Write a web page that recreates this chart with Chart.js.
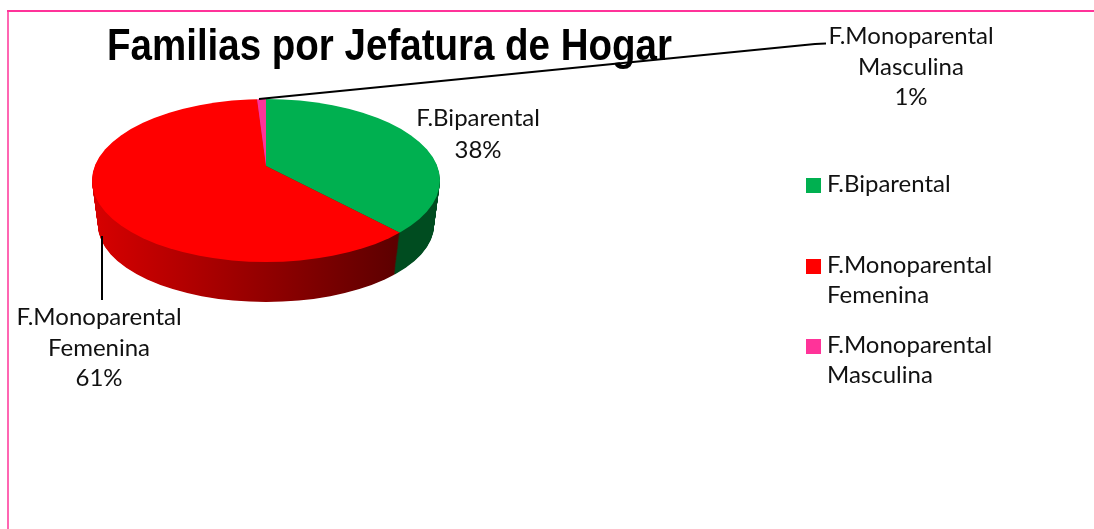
<!DOCTYPE html>
<html>
<head>
<meta charset="utf-8">
<title>Familias por Jefatura de Hogar</title>
<script src="https://cdn.jsdelivr.net/npm/chart.js@4"></script>
<style>
    html, body { margin: 0; padding: 0; background: #ffffff; overflow: hidden; }
    #wrap { position: relative; width: 1094px; height: 529px; }
</style>
</head>
<body>
<div id="wrap"><canvas id="chart" width="1094" height="529"></canvas></div>
<script>
const chartTitle = "Familias por Jefatura de Hogar";
const categories = ["F.Biparental", "F.Monoparental Femenina", "F.Monoparental Masculina"];
const values = [38, 61, 1];
const sliceColors = ["#00B050", "#FF0000", "#FF3399"];
const sideColors = [["#004c20", "#004c20"], ["#d80000", "#5c0000"], ["#b02070", "#b02070"]];

const labelFont = '24px Lato';
const titleFont = 'bold 44px "Liberation Sans"';
const frameColor = "#FF3399";

// top face of the pie on screen, the apex sits above the ellipse centre (perspective)
const pie = { x: 266, y: 180.5, rx: 174, ry: 81.5, apexY: 166, depth: 44.5, shrinkX: 6, shrinkY: 4.5 };
const tilt = pie.ry / pie.rx;

function words(i) {
    return categories[i].split(" ");
}

/**
 * Draws every arc of the dataset clipped to one ellipse of the pie
 */
function draw_layer(ctx, arcs, step, styles) {
    const rx = pie.rx - pie.shrinkX * step;
    const ry = pie.ry - pie.shrinkY * step;
    const offset = pie.depth * step;

    ctx.save();
    ctx.beginPath();
    ctx.ellipse(pie.x, pie.y + offset, rx, ry, 0, 0, Math.PI * 2);
    ctx.clip();
    ctx.translate(pie.x, pie.apexY + offset);
    ctx.scale(1, tilt);
    ctx.translate(-arcs[0].x, -arcs[0].y);
    arcs.forEach((arc, i) => {
        const saved = arc.options;
        arc.options = Object.assign({}, saved, { backgroundColor: styles[i], borderWidth: 0 });
        arc.draw(ctx);
        arc.options = saved;
    });
    ctx.restore();
}

function draw_centered(ctx, lines, x, ys) {
    ctx.textAlign = "center";
    lines.forEach((line, i) => ctx.fillText(line, x, ys[i]));
}

const pie3d = {
    id: "pie3d",
    beforeDatasetsDraw(chart) {
        const ctx = chart.ctx;
        const arcs = chart.getDatasetMeta(0).data;

        // frame
        ctx.lineWidth = 2;
        ctx.strokeStyle = "#FF66B2";
        ctx.beginPath();
        ctx.moveTo(8, 529);
        ctx.lineTo(8, 10);
        ctx.stroke();
        ctx.strokeStyle = frameColor;
        ctx.beginPath();
        ctx.moveTo(7, 11);
        ctx.lineTo(1094, 11);
        ctx.stroke();

        // side wall
        const toLocal = arcs[0].x - pie.x;
        const sideStyles = sideColors.map(pair => {
            const g = ctx.createLinearGradient(92 + toLocal, 0, 440 + toLocal, 0);
            g.addColorStop(0, pair[0]);
            g.addColorStop(0.88, pair[1]);
            g.addColorStop(1, pair[1]);
            return g;
        });
        for (let n = 60; n > 0; n--) {
            draw_layer(ctx, arcs, n / 60, sideStyles);
        }
        draw_layer(ctx, arcs, 0, sliceColors);
        return false;
    },
    afterDraw(chart) {
        const ctx = chart.ctx;

        // leader lines
        ctx.strokeStyle = "#000000";
        ctx.lineWidth = 2;
        ctx.beginPath();
        ctx.moveTo(259, 99);
        ctx.lineTo(815, 44);
        ctx.lineTo(826, 43.5);
        ctx.moveTo(102, 236);
        ctx.lineTo(102, 300);
        ctx.stroke();

        ctx.fillStyle = "#000000";
        ctx.font = titleFont;
        ctx.textAlign = "left";
        ctx.textBaseline = "alphabetic";
        ctx.fillText(chartTitle, 107, 60, 565);

        // data labels
        ctx.textBaseline = "middle";
        ctx.font = labelFont;
        ctx.fillStyle = "#111111";
        draw_centered(ctx, [...words(0), values[0] + "%"], 478, [118, 150]);
        draw_centered(ctx, [...words(1), values[1] + "%"], 99, [317, 348, 378]);
        draw_centered(ctx, [...words(2), values[2] + "%"], 911, [36, 67, 97]);

        // legend
        const legendYs = [[184], [265, 295], [345, 375]];
        ctx.textAlign = "left";
        categories.forEach((c, i) => {
            ctx.fillStyle = sliceColors[i];
            ctx.fillRect(806, legendYs[i][0] - 6, 15, 15);
            ctx.fillStyle = "#111111";
            words(i).forEach((w, j) => ctx.fillText(w, 827, legendYs[i][j]));
        });
    },
};

new Chart(document.getElementById("chart"), {
    type: "pie",
    data: {
        labels: categories,
        datasets: [{
            data: values,
            backgroundColor: sliceColors,
            borderWidth: 0,
        }],
    },
    options: {
        responsive: false,
        animation: false,
        plugins: {
            legend: { display: false },
            tooltip: { enabled: false },
        },
    },
    plugins: [pie3d],
});
</script>
</body>
</html>
